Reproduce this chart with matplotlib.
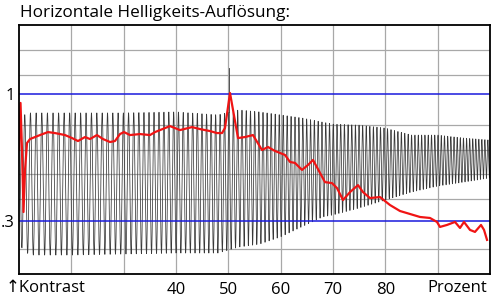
import numpy as np
import matplotlib
matplotlib.use("Agg")
import matplotlib.pyplot as plt

plt.rcParams['font.family'] = ['Open Sans', 'DejaVu Sans']

# ---------------- data (x in percent, y in level units: 0 = bottom, 10 = top) ----------------
title = "Horizontale Helligkeits-Auflösung:"
xtick_vals = [40, 50, 60, 70, 80]
xtick_labels = ["40", "50", "60", "70", "80"]
ytick_vals = [2.13, 7.23]
ytick_labels = [".3", "1"]
grid_x = [20, 30, 40, 50, 60, 70, 80, 90]
grid_y = [1, 3, 4, 5, 6, 8, 9]

# red contrast curve
red_pct = [10.0, 10.29, 10.57, 10.86, 11.15, 11.53, 12.10, 13.06, 14.01, 15.54, 16.88, 18.79,
           20.13, 21.27, 22.61, 23.57, 24.90, 26.05, 27.39, 28.34, 29.30, 30.06, 31.21, 33.12,
           35.03, 35.99, 38.85, 40.76, 43.06, 44.59, 46.50, 47.84, 48.79, 49.36, 50.32, 51.85,
           53.18, 54.71, 56.43, 57.58, 58.92, 60.83, 61.78, 62.74, 64.08, 65.23, 66.18, 67.52,
           68.47, 69.81, 70.77, 71.91, 73.25, 74.78, 75.73, 77.07, 78.98, 80.89, 82.80, 84.71,
           86.62, 88.53, 89.87, 90.44, 91.78, 93.31, 94.27, 95.03, 96.18, 97.13, 98.28, 98.86, 99.43]
red_lvl = [4.98, 6.87, 4.98, 2.49, 4.18, 5.26, 5.42, 5.50, 5.58, 5.70, 5.66, 5.58,
           5.46, 5.34, 5.50, 5.42, 5.58, 5.42, 5.30, 5.34, 5.62, 5.70, 5.58, 5.62,
           5.58, 5.70, 5.94, 5.78, 5.90, 5.82, 5.74, 5.66, 5.66, 5.86, 7.27, 5.46,
           5.50, 5.58, 4.98, 5.10, 4.94, 4.78, 4.50, 4.46, 4.18, 4.38, 4.58, 4.06,
           3.69, 3.65, 3.45, 2.97, 3.29, 3.57, 3.29, 3.05, 3.09, 2.77, 2.53, 2.41,
           2.29, 2.25, 2.09, 1.89, 1.97, 2.09, 1.85, 2.09, 1.77, 1.69, 1.97, 1.77, 1.37]

env_pct = [10, 12, 20, 30, 40, 48, 52, 56, 60, 64, 68, 70, 75, 80, 85, 90, 95, 100]
env_upper = [6.31, 6.47, 6.47, 6.47, 6.51, 6.39, 6.59, 6.51, 6.39, 6.27, 6.10, 6.02,
             5.98, 5.86, 5.58, 5.58, 5.46, 5.38]
env_lower = [1.16, 0.76, 0.76, 0.80, 0.84, 0.84, 1.08, 1.20, 1.49, 1.89, 2.29, 2.37,
             2.65, 2.97, 3.29, 3.53, 3.69, 3.86]
period_pos = [10, 30, 40, 60, 80, 100]
period_len = [1.10, 1.00, 0.92, 0.76, 0.67, 0.57]
spike_pct = 50.2
spike_top = 8.27

# ---------------- figure ----------------
fig = plt.figure(figsize=(5.0, 3.03), dpi=100)
ax = fig.add_axes([19/500, 29/303, 471/500, 249/303])
ax.set_xlim(10, 100)
ax.set_ylim(0, 10)

for gx in grid_x:
    ax.axvline(gx, color='#a8a8a8', lw=0.9, zorder=1)
for gy in grid_y:
    ax.axhline(gy, color='#a8a8a8', lw=0.9, zorder=1)

# black signal
xs = np.linspace(10, 100, 30000)
per = np.interp(xs, period_pos, period_len)
phase = np.concatenate([[0], np.cumsum(np.diff(xs) / per[1:])])
up = np.interp(xs, env_pct, env_upper)
lo = np.interp(xs, env_pct, env_lower)
sig = (up + lo) / 2 + (up - lo) / 2 * np.cos(2 * np.pi * phase)
ax.plot(xs, sig, color='#383838', lw=0.55, zorder=2)
ax.plot([spike_pct, spike_pct], [np.interp(spike_pct, env_pct, env_upper), spike_top],
        color='#383838', lw=0.6, zorder=2)

for yv in ytick_vals:
    ax.axhline(yv, color='#1a1adc', lw=1.1, zorder=3)

ax.plot(red_pct, red_lvl, color='#f01414', lw=1.6, zorder=4, solid_joinstyle='round')

for s in ax.spines.values():
    s.set_linewidth(1.3)
    s.set_color('black')
    s.set_zorder(5)

ax.set_xticks(xtick_vals, xtick_labels)
ax.set_yticks(ytick_vals, ytick_labels)
ax.tick_params(length=0, labelsize=12, pad=6)
ax.tick_params(axis='y', pad=3)

fig.text(20/500, 1 - 13/303, title, fontsize=12.3, va='center', ha='left')
fig.text(6/500, 1 - 288/303, "↑Kontrast", fontsize=12, va='center', ha='left')
fig.text(487/500, 1 - 288/303, "Prozent", fontsize=12, va='center', ha='right')

fig.savefig("out.png", dpi=100)
